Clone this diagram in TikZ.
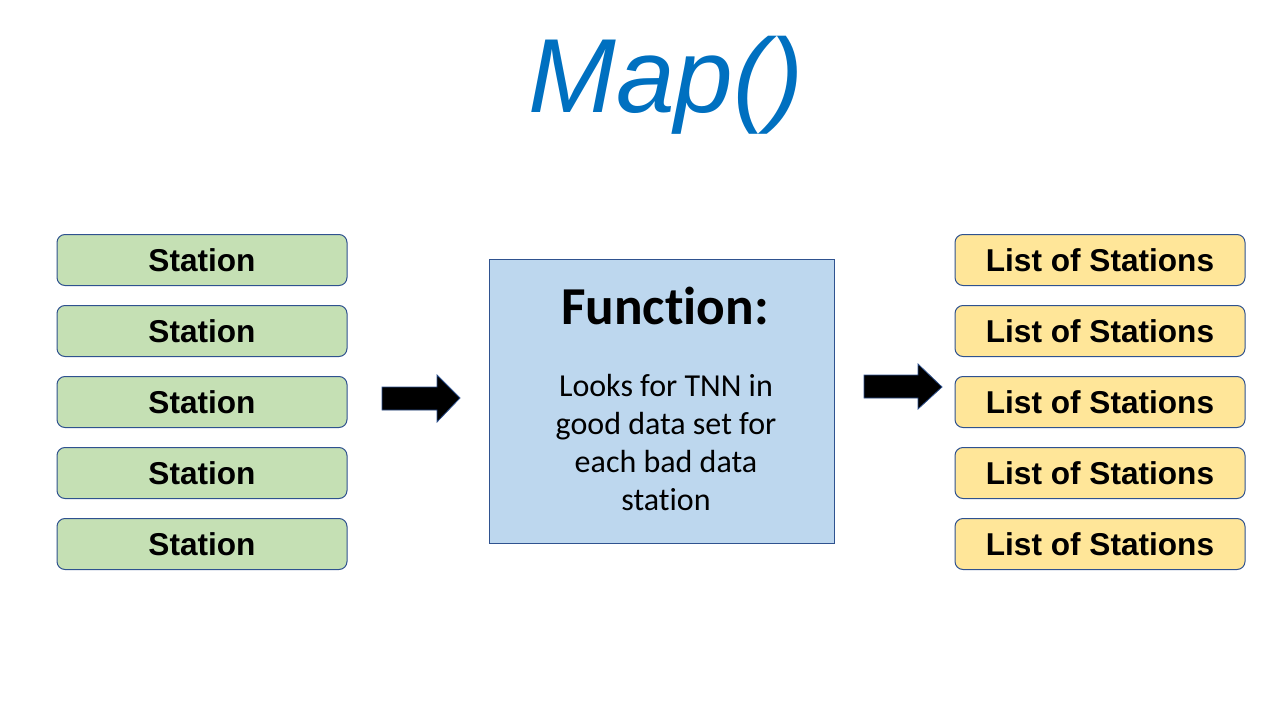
\documentclass[tikz,border=0pt]{standalone}
\usepackage{fontspec}
\setmainfont{Liberation Sans}
\newfontfamily\carlito[Ligatures=NoCommon]{Carlito}
\usetikzlibrary{positioning}
\definecolor{stgreen}{HTML}{C5E0B4}
\definecolor{lsyellow}{HTML}{FFE699}
\definecolor{fnblue}{HTML}{BDD7EE}
\definecolor{edgeblue}{HTML}{2F528F}
\definecolor{titleblue}{HTML}{0070C0}

\tikzset{
  itembox/.style={draw=edgeblue, line width=0.75pt, rounded corners=6pt,
    minimum width=217.5pt, minimum height=38.25pt, inner sep=0pt,
    font=\fontsize{23.7}{28}\selectfont\bfseries},
  station/.style={itembox, fill=stgreen},
  stlist/.style={itembox, fill=lsyellow},
  blockarrow/.style={fill=black, draw=edgeblue, line width=0.6pt}
}

\begin{document}
\begin{tikzpicture}[x=0.75pt,y=-0.75pt]
  \useasboundingbox (0,0) rectangle (1271,710);
  % title
  \node[anchor=base, text=titleblue, font=\fontsize{79}{92}\selectfont\itshape] (title) at (666,113) {Map()};
  % inputs
  \node[station] (st1) at (202,260) {Station};
  \node[station, below=14.25pt of st1] (st2) {Station};
  \node[station, below=14.25pt of st2] (st3) {Station};
  \node[station, below=14.25pt of st3] (st4) {Station};
  \node[station, below=14.25pt of st4] (st5) {Station};
  % outputs
  \node[stlist] (ls1) at (1100,260) {List of Stations};
  \node[stlist, below=14.25pt of ls1] (ls2) {List of Stations};
  \node[stlist, below=14.25pt of ls2] (ls3) {List of Stations};
  \node[stlist, below=14.25pt of ls3] (ls4) {List of Stations};
  \node[stlist, below=14.25pt of ls4] (ls5) {List of Stations};
  % function box
  \node[draw=edgeblue, line width=0.75pt, fill=fnblue, minimum width=258.75pt, minimum height=213pt] (func) at (661.5,401) {};
  \node[anchor=base, font=\carlito\fontsize{40}{48}\selectfont\bfseries] (fhead) at (665,324) {Function:};
  \node[anchor=base, align=center, font=\carlito\fontsize{24}{28.5}\selectfont] (fbody) at (666,510)
    {Looks for TNN in\\good data set for\\each bad data\\station};
  % arrows
  \filldraw[blockarrow] (382,387) -- (437,387) -- (437,375) -- (460,398) -- (437,422) -- (437,410) -- (382,410) -- cycle;
  \filldraw[blockarrow] (864,375) -- (918,375) -- (918,364) -- (942,387) -- (918,409) -- (918,398) -- (864,398) -- cycle;
\end{tikzpicture}
\end{document}
